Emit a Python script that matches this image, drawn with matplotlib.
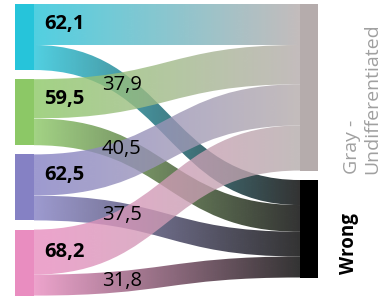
import numpy as np
import matplotlib.pyplot as plt
from matplotlib.path import Path
from matplotlib.patches import PathPatch, Rectangle
from matplotlib.colors import to_rgb

# flows from each colour group to the two outcomes
sources = ['Cyan', 'Green', 'Purple', 'Pink']
source_colors = ['#26c4da', '#8cc866', '#8581c4', '#e98dc0']
targets = ['Gray -\nUndifferentiated', 'Wrong']
target_colors = ['#b5acac', '#000000']
to_gray = [62.1, 59.5, 62.5, 68.2]
to_wrong = [37.9, 40.5, 37.5, 31.8]

plt.rcParams['font.family'] = ['Open Sans', 'DejaVu Sans']

W, H = 379, 299
fig = plt.figure(figsize=(W / 100, H / 100), dpi=100)
ax = fig.add_axes([0, 0, 1, 1])
ax.axis('off')

k = 0.66          # px per unit
top = 4
gap_l = 9.2
gap_r = 9.5
xl0, xl1 = 15, 34     # left node columns
xr0, xr1 = 300, 318   # right node columns
alpha = 0.8


def fmt(v):
    return ('%.1f' % v).replace('.', ',')


# left nodes
src_y = []
y = top
for g, w in zip(to_gray, to_wrong):
    src_y.append(y)
    y += (g + w) * k + gap_l

# right nodes
tgt_tot = [sum(to_gray), sum(to_wrong)]
tgt_y = [top, top + tgt_tot[0] * k + gap_r]

for i, c in enumerate(source_colors):
    h = (to_gray[i] + to_wrong[i]) * k
    ax.add_patch(Rectangle((xl0, src_y[i]), xl1 - xl0, h, color=c, lw=0))
for j, c in enumerate(target_colors):
    ax.add_patch(Rectangle((xr0, tgt_y[j]), xr1 - xr0, tgt_tot[j] * k, color=c, lw=0))


def link_path(y0a, y0b, y1a, y1b):
    xm = (xl1 + xr0) / 2
    verts = [(xl1, y0a), (xm, y0a), (xm, y1a), (xr0, y1a),
             (xr0, y1b), (xm, y1b), (xm, y0b), (xl1, y0b), (xl1, y0a)]
    codes = [Path.MOVETO, Path.CURVE4, Path.CURVE4, Path.CURVE4,
             Path.LINETO, Path.CURVE4, Path.CURVE4, Path.CURVE4, Path.CLOSEPOLY]
    return Path(verts, codes)


def centre_at(x, y0, y1):
    t = np.linspace(0, 1, 2001)
    xm = (xl1 + xr0) / 2
    bx = xl1 * (1 - t) ** 3 + 3 * xm * (1 - t) ** 2 * t + 3 * xm * (1 - t) * t ** 2 + xr0 * t ** 3
    tt = t[np.argmin(np.abs(bx - x))]
    f = 3 * tt ** 2 - 2 * tt ** 3
    return y0 + (y1 - y0) * f


def draw_link(y0a, y0b, y1a, y1b, c0, c1):
    path = link_path(y0a, y0b, y1a, y1b)
    patch = PathPatch(path, facecolor='none', edgecolor='none')
    ax.add_patch(patch)
    n = 256
    a = np.linspace(0, 1, n)[:, None]
    rgb = np.array(to_rgb(c0)) * (1 - a) + np.array(to_rgb(c1)) * a
    img = np.concatenate([rgb, np.full((n, 1), alpha)], axis=1)[None, :, :]
    ymin, ymax = min(y0a, y1a), max(y0b, y1b)
    im = ax.imshow(img, extent=(xl1, xr0, ymax, ymin), aspect='auto',
                   interpolation='bilinear', zorder=1)
    im.set_clip_path(patch)


# running offsets inside the right nodes
r_off = [tgt_y[0], tgt_y[1]]
for i in range(len(sources)):
    y0 = src_y[i]
    hg = to_gray[i] * k
    hw = to_wrong[i] * k
    # to gray
    draw_link(y0, y0 + hg, r_off[0], r_off[0] + hg, source_colors[i], target_colors[0])
    ax.text(64, y0 + hg / 2, fmt(to_gray[i]), fontsize=14.5, fontweight='bold',
            ha='center', va='center', zorder=5)
    # to wrong
    draw_link(y0 + hg, y0 + hg + hw, r_off[1], r_off[1] + hw, source_colors[i], target_colors[1])
    yc = centre_at(122, y0 + hg + hw / 2, r_off[1] + hw / 2)
    ax.text(122, yc, fmt(to_wrong[i]), fontsize=14.5, ha='center', va='center', zorder=5)
    r_off[0] += hg
    r_off[1] += hw

# target labels
ax.text(362, tgt_y[0] + tgt_tot[0] * k + 3, targets[0], rotation=90, rotation_mode='anchor',
        ha='left', va='center', fontsize=14, color='#a0a0a0', linespacing=1.15)
ax.text(349, tgt_y[1] + tgt_tot[1] * k - 3, targets[1], rotation=90, rotation_mode='anchor',
        ha='left', va='center', fontsize=13.5, fontweight='bold', color='black')

ax.set_xlim(0, W)
ax.set_ylim(H, 0)
fig.savefig('out.png', dpi=100)
